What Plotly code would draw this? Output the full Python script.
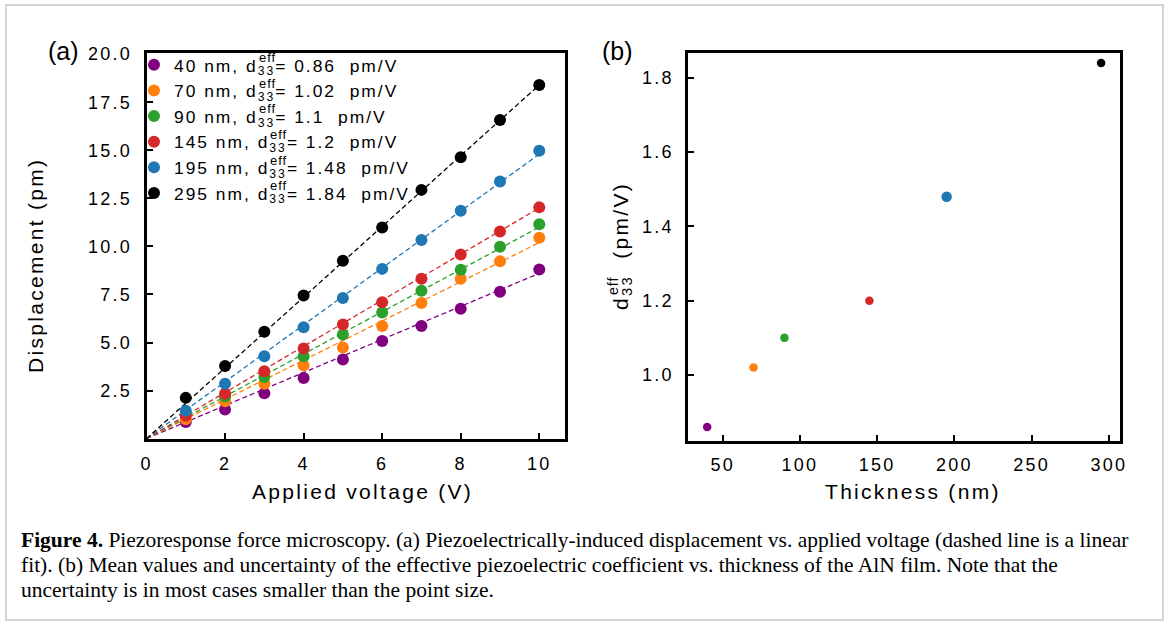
import plotly.graph_objects as go

# ---------------- data ----------------
voltage = [1, 2, 3, 4, 5, 6, 7, 8, 9, 10]
thickness_nm = [40, 70, 90, 145, 195, 295]
d33_eff = [0.86, 1.02, 1.1, 1.2, 1.48, 1.84]
d33_labels = ["0.86", "1.02", "1.1", "1.2", "1.48", "1.84"]
disp_40 = [0.87, 1.51, 2.36, 3.15, 4.12, 5.08, 5.86, 6.76, 7.64, 8.80]
disp_70 = [1.01, 1.94, 2.85, 3.81, 4.74, 5.86, 7.05, 8.32, 9.23, 10.45]
disp_90 = [1.28, 2.19, 3.20, 4.28, 5.42, 6.56, 7.69, 8.79, 9.98, 11.15]
disp_145 = [1.19, 2.33, 3.51, 4.69, 5.94, 7.10, 8.32, 9.58, 10.77, 12.03]
disp_195 = [1.45, 2.85, 4.28, 5.79, 7.31, 8.83, 10.33, 11.85, 13.37, 14.97]
disp_295 = [2.12, 3.78, 5.56, 7.45, 9.25, 10.98, 12.94, 14.64, 16.57, 18.39]
displacements = [disp_40, disp_70, disp_90, disp_145, disp_195, disp_295]
fit_voltage = [0, 10]
x_ticks_a = [0, 2, 4, 6, 8, 10]
y_ticks_a = [2.5, 5.0, 7.5, 10.0, 12.5, 15.0, 17.5, 20.0]
x_ticks_b = [50, 100, 150, 200, 250, 300]
y_ticks_b = [1.0, 1.2, 1.4, 1.6, 1.8]

colors = ["#800080", "#ff7f0e", "#2ca02c", "#d62728", "#1f77b4", "#000000"]
marker_b_sizes = [8.5, 8.5, 8.5, 8.5, 10.5, 8.5]

W, H = 1170, 626
FONT = "Liberation Sans, Arial, Helvetica, sans-serif"
SERIF = "Liberation Serif, Times New Roman, serif"


def px(x):
    return x / W


def py(y):
    return 1 - y / H


def sp(t, ls=2.2):
    return f'<span style="letter-spacing:{ls}px">{t}</span>'


fig = go.Figure()

# dashed linear fits
for d, c in zip(d33_eff, colors):
    fig.add_trace(go.Scatter(
        x=fit_voltage, y=[d * v for v in fit_voltage], mode="lines",
        line=dict(color=c, width=1.3, dash="5px,3px"),
        showlegend=False, hoverinfo="skip", xaxis="x", yaxis="y"))

# measured points
LEG_LS = 2.0
for t, d, lab, c, ys in zip(thickness_nm, d33_eff, d33_labels, colors, displacements):
    name = sp(f"{t} nm, d<sub>33</sub>= {lab}  pm/V", LEG_LS)
    fig.add_trace(go.Scatter(
        x=voltage, y=ys, mode="markers", name=name,
        marker=dict(color=c, size=12, opacity=1, line=dict(width=0)),
        xaxis="x", yaxis="y"))

# panel b
fig.add_trace(go.Scatter(
    x=thickness_nm, y=d33_eff, mode="markers",
    marker=dict(color=colors, size=marker_b_sizes, opacity=1, line=dict(width=0)),
    showlegend=False, xaxis="x2", yaxis="y2"))

axis_common = dict(
    showline=True, linewidth=3, linecolor="black", mirror=True,
    ticks="inside", ticklen=6, tickwidth=2, tickcolor="black",
    showgrid=False, zeroline=False,
    tickfont=dict(family=FONT, size=18, color="black"),
)

LEG_X = 134
LEG_FS = 17.4
fig.update_layout(
    width=W, height=H,
    paper_bgcolor="white", plot_bgcolor="white",
    margin=dict(l=0, r=0, t=0, b=0, autoexpand=False),
    font=dict(family=FONT, size=18, color="black"),
    xaxis=dict(domain=[px(146.5), px(565.2)], range=[0, 10.66], anchor="y",
               tickvals=x_ticks_a, ticktext=[sp(str(v)) for v in x_ticks_a],
               ticklabelstandoff=6, **axis_common),
    yaxis=dict(domain=[py(439.2), py(53.2)], range=[-0.03, 20.05], anchor="x",
               tickvals=y_ticks_a, ticktext=[sp(f"{v:.1f}") for v in y_ticks_a],
               ticklabelstandoff=8, **axis_common),
    xaxis2=dict(domain=[px(688.2), px(1119.5)], range=[27.7, 306.9], anchor="y2",
                tickvals=x_ticks_b, ticktext=[sp(str(v)) for v in x_ticks_b],
                ticklabelstandoff=6, **axis_common),
    yaxis2=dict(domain=[py(440.8), py(52.5)], range=[0.823, 1.868], anchor="x2",
                tickvals=y_ticks_b, ticktext=[sp(f"{v:.1f}") for v in y_ticks_b],
                ticklabelstandoff=8, **axis_common),
    legend=dict(x=px(LEG_X), y=py(47), xanchor="left", yanchor="top",
                bgcolor="rgba(0,0,0,0)", borderwidth=0,
                font=dict(family=FONT, size=LEG_FS, color="black"),
                itemsizing="trace"),
    showlegend=True,
)

annotations = []


def ann(text, x, y, size, angle=0, family=FONT, xanchor="center", yanchor="middle"):
    annotations.append(dict(text=text, x=px(x), y=py(y), xref="paper", yref="paper",
                            showarrow=False, textangle=angle, xanchor=xanchor,
                            yanchor=yanchor,
                            font=dict(family=family, size=size, color="black")))


# panel labels
ann("(a)", 63, 50.5, 25)
ann("(b)", 617, 50.5, 25)
# axis titles
ann(sp("Applied voltage (V)", 2.3), 362, 491, 21)
ann(sp("Thickness (nm)", 2.3), 913, 491, 21)
ann(sp("Displacement (pm)", 2.3), 35, 266, 21, angle=-90)
ann(sp("d<sub>33</sub>  (pm/V)", 2.3), 622, 246, 21, angle=-90)
ann(sp("eff", 1.0), 613, 286, 14, angle=-90)

# stacked superscripts in legend
text_start = LEG_X + 40
w2 = 0.556 * 2 + 0.278 * 3 + 0.556 + 0.833 + 0.556   # "40 nm, d" in em (Arial)
w3 = w2 + 0.556
row_y = [66, 91.5, 117, 142.5, 168, 193.5]
for t, yy in zip(thickness_nm, row_y):
    w = (w2 if t < 100 else w3) * LEG_FS + (8 if t < 100 else 9) * LEG_LS
    ann(sp("eff", 1.0), text_start + w - 1, yy - 8, 13, xanchor="left")

# caption
cap = [
    "<b>Figure 4.</b> Piezoresponse force microscopy. (a) Piezoelectrically-induced displacement vs. applied voltage (dashed line is a linear",
    "fit). (b) Mean values and uncertainty of the effective piezoelectric coefficient vs. thickness of the AlN film. Note that the",
    "uncertainty is in most cases smaller than the point size.",
]
for i, line in enumerate(cap):
    ann(line, 19, 540 + 25 * i, 21.5, family=SERIF, xanchor="left")

fig.update_layout(annotations=annotations)

# light frame around the figure
fig.add_shape(type="rect", xref="paper", yref="paper",
              x0=px(6), x1=px(1163), y0=py(620), y1=py(5),
              line=dict(color="#c8c8c8", width=1.5))

fig.write_html("out.html", config={"displayModeBar": False},
               post_script="document.body.style.margin='0px';")
